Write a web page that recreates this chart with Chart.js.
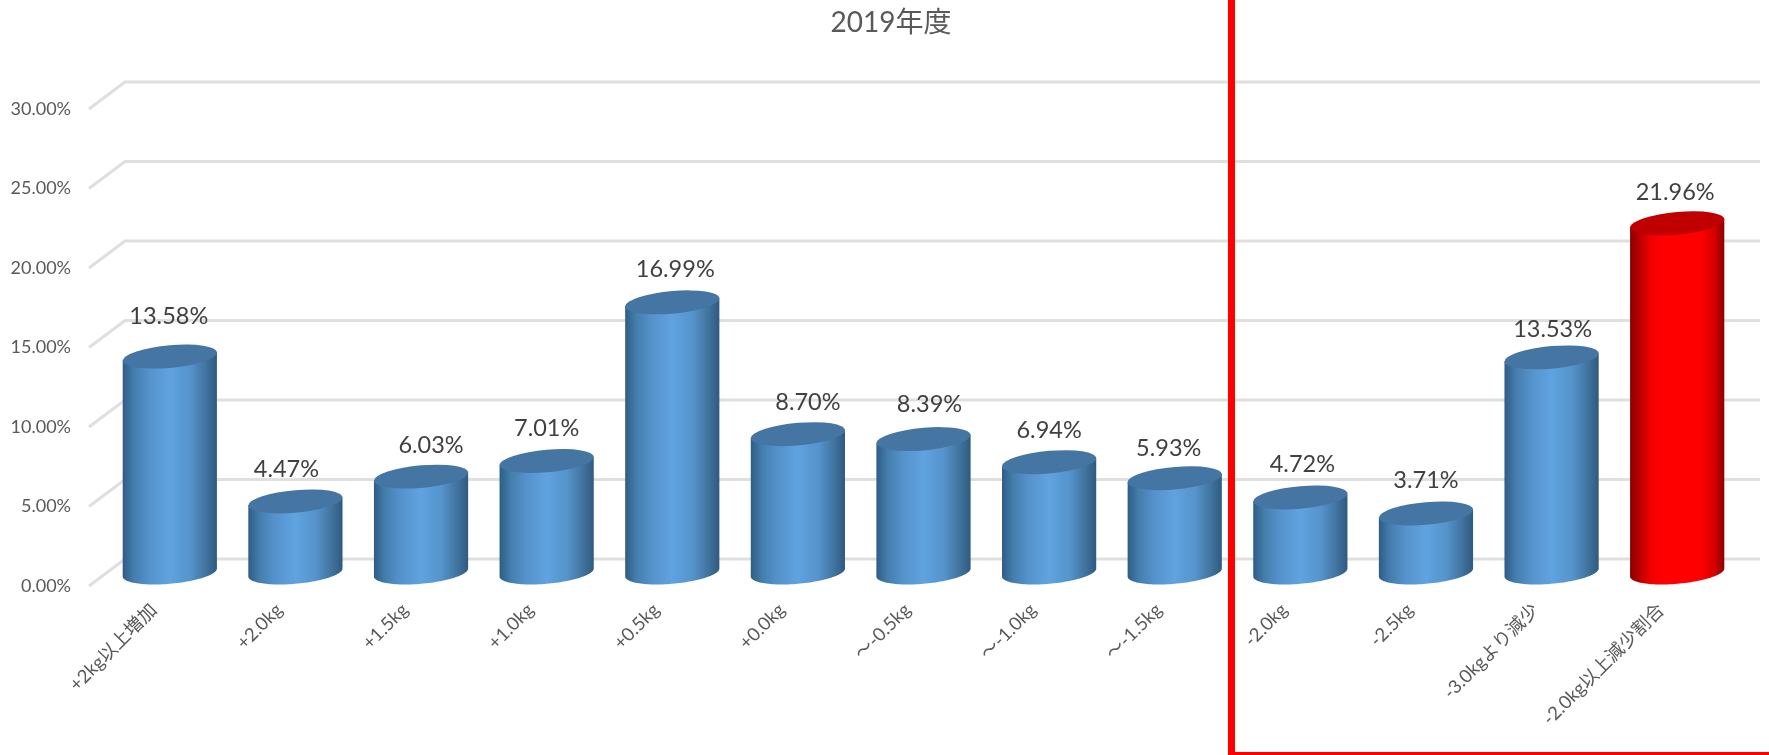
<!DOCTYPE html>
<html>
<head>
<meta charset="utf-8">
<title>2019年度</title>
<script src="https://cdn.jsdelivr.net/npm/chart.js@4"></script>
<style>
  html, body { margin: 0; padding: 0; background: #fff; }
  #wrap { width: 1769px; height: 755px; }
</style>
</head>
<body>
<div id="wrap"><canvas id="myChart"></canvas></div>
<script>
const categories = [
  '+2kg以上増加', '+2.0kg', '+1.5kg', '+1.0kg', '+0.5kg', '+0.0kg', '～-0.5kg',
  '～-1.0kg', '～-1.5kg', '-2.0kg', '-2.5kg', '-3.0kgより減少', '-2.0kg以上減少割合'
];
const shares = [13.58, 4.47, 6.03, 7.01, 16.99, 8.70, 8.39, 6.94, 5.93, 4.72, 3.71, 13.53, 21.96];
const yTicks = [0, 5, 10, 15, 20, 25, 30];

const fontFamily = 'Lato, "Noto Sans CJK JP", sans-serif';
const depthX = 36, depthY = -27; // the 3D floor runs back by this much

// data labels were dragged by hand in the original, so they don't sit evenly
const labelNudge = [
  [-1, -7], [-9, 1], [10, 2], [0, 0], [3, 0], [10, 1], [6, -2],
  [0, 1], [-6, 3], [2, 0], [0, 0], [1, 5], [-2, 2]
];

function cylinderGradient(ctx, left, right, isRed) {
  const g = ctx.createLinearGradient(left, 0, right, 0);
  if (isRed) {
    g.addColorStop(0, '#8a0000');
    g.addColorStop(0.22, '#f00000');
    g.addColorStop(0.35, '#ff0000');
    g.addColorStop(0.75, '#ff0000');
    g.addColorStop(0.9, '#d40000');
    g.addColorStop(1, '#8a0000');
  } else {
    g.addColorStop(0, '#2f5c86');
    g.addColorStop(0.12, '#447ead');
    g.addColorStop(0.28, '#5592cb');
    g.addColorStop(0.5, '#5fa3e0');
    g.addColorStop(0.72, '#5593cb');
    g.addColorStop(0.88, '#41749f');
    g.addColorStop(1, '#2f5a80');
  }
  return g;
}

const floorGrid = {
  id: 'floorGrid',
  // title is centred over the whole picture, not over the chart area
  afterLayout(chart) {
    chart.titleBlock.left = 60;
  },
  beforeDatasetsDraw(chart) {
    const { ctx, scales: { y }, chartArea } = chart;
    ctx.save();
    ctx.strokeStyle = '#dfdfdf';
    ctx.lineWidth = 3;
    ctx.lineJoin = 'round';
    yTicks.forEach(t => {
      const py = y.getPixelForValue(t);
      ctx.beginPath();
      ctx.moveTo(chartArea.left, py);
      ctx.lineTo(chartArea.left + depthX, py + depthY);
      ctx.lineTo(chartArea.right + depthX + 2, py + depthY);
      ctx.stroke();
    });
    ctx.restore();
  }
};

const cylinders = {
  id: 'cylinders',
  afterDatasetsDraw(chart) {
    const { ctx } = chart;
    const bars = chart.getDatasetMeta(0).data;
    bars.forEach((bar, i) => {
      const isRed = i === shares.length - 1;
      const cx = bar.x + depthX / 2;
      const topY = bar.y + depthY / 2;
      const baseY = bar.base + depthY / 2;
      const rx = bar.width / 2;
      const ry = 11.3;
      const k = 0.085;

      ctx.save();
      ctx.fillStyle = cylinderGradient(ctx, cx - rx, cx + rx, isRed);
      ctx.beginPath();
      ctx.moveTo(cx - rx, topY + k * rx);
      ctx.lineTo(cx + rx, topY - k * rx);
      ctx.lineTo(cx + rx, baseY - k * rx);
      // lower half of the sheared base ellipse
      for (let a = 0; a <= 60; a++) {
        const t = Math.PI * a / 60;
        const ex = rx * Math.cos(t);
        ctx.lineTo(cx + ex, baseY + ry * Math.sin(t) - k * ex);
      }
      ctx.closePath();
      ctx.fill();

      ctx.transform(1, -k, 0, 1, 0, k * cx);
      ctx.fillStyle = isRed ? '#c00000' : '#4576a3';
      ctx.beginPath();
      ctx.ellipse(cx, topY, rx, ry, 0, 0, Math.PI * 2);
      ctx.fill();
      ctx.restore();

      // value label
      ctx.save();
      ctx.font = '23.5px ' + fontFamily;
      ctx.fillStyle = '#404040';
      ctx.textAlign = 'center';
      ctx.textBaseline = 'middle';
      ctx.fillText(shares[i].toFixed(2) + '%', cx + labelNudge[i][0], topY - 33 + labelNudge[i][1]);
      ctx.restore();
    });
  }
};

// red frame around the -2.0kg and below group
const redFrame = {
  id: 'redFrame',
  afterDraw(chart) {
    const { ctx } = chart;
    ctx.save();
    ctx.fillStyle = '#ff0000';
    ctx.fillRect(1228, 0, 7, 755);
    ctx.fillRect(1228, 752, 541, 3);
    ctx.restore();
  }
};

new Chart(document.getElementById('myChart'), {
  type: 'bar',
  data: {
    labels: categories,
    datasets: [{
      data: shares,
      backgroundColor: 'rgba(0,0,0,0)',
      barPercentage: 0.75,
      categoryPercentage: 1
    }]
  },
  plugins: [floorGrid, cylinders, redFrame],
  options: {
    responsive: true,
    maintainAspectRatio: false,
    animation: false,
    layout: { padding: { right: 47, left: 0, top: 0, bottom: 0 } },
    plugins: {
      legend: { display: false },
      tooltip: { enabled: false },
      title: {
        display: true,
        text: '2019年度',
        color: '#595959',
        font: { family: fontFamily, size: 28, weight: 'normal' },
        padding: { top: 6, bottom: 69.4 }
      }
    },
    scales: {
      x: {
        grid: { display: false },
        border: { display: false },
        afterFit: s => { s.height = 169; },
        ticks: {
          color: '#595959',
          font: { family: fontFamily, size: 18.5 },
          minRotation: 45,
          maxRotation: 45,
          autoSkip: false,
          labelOffset: 2,
          padding: 5
        }
      },
      y: {
        min: 0,
        max: 30,
        afterFit: s => { s.width = 89; },
        grid: { display: false },
        border: { display: false },
        afterBuildTicks: s => { s.ticks = yTicks.map(v => ({ value: v })); },
        ticks: {
          color: '#595959',
          font: { family: fontFamily, size: 18 },
          padding: 10,
          callback: v => v.toFixed(2) + '%'
        }
      }
    }
  }
});
</script>
</body>
</html>
